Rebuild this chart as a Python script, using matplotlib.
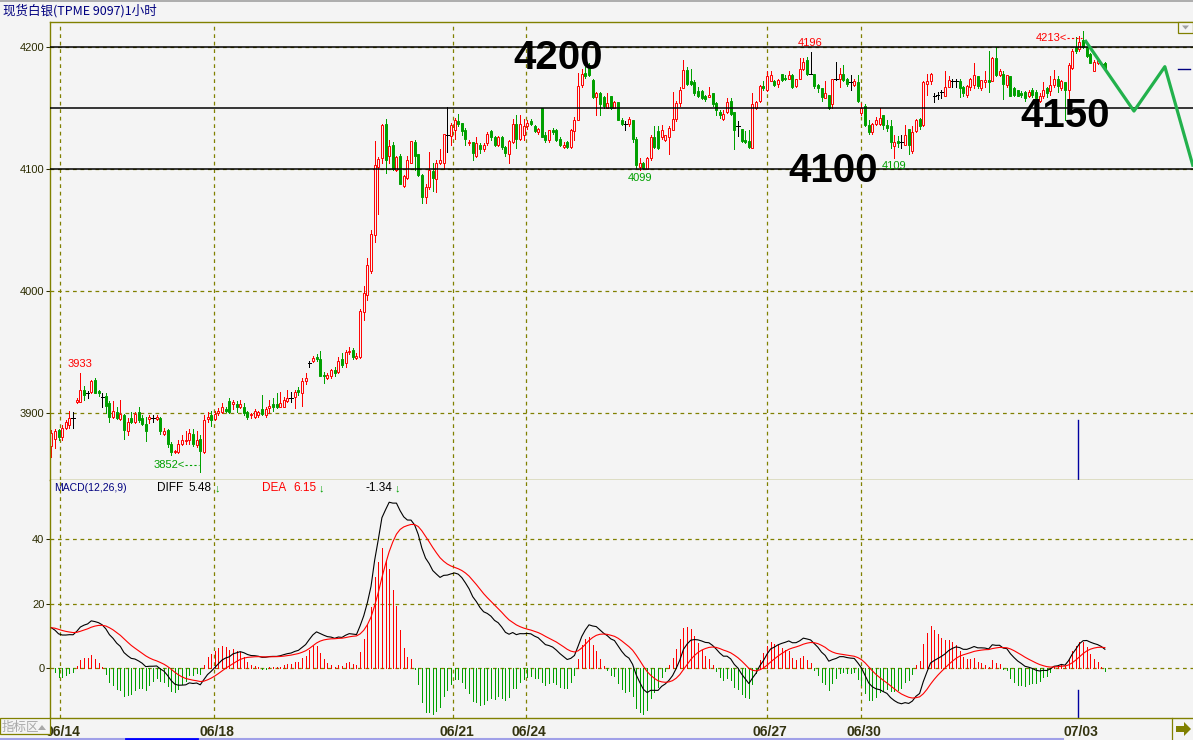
import numpy as np
import matplotlib
matplotlib.use("Agg")
import matplotlib.pyplot as plt
from matplotlib import font_manager
from matplotlib.lines import Line2D
from matplotlib.patches import Rectangle, Polygon
from matplotlib.transforms import Affine2D, ScaledTranslation, blended_transform_factory

# ---------------- data (1 hour candles) ----------------
title = "现货白银(TPME 9097)1小时"

opens = [
    3873, 3879, 3886, 3880, 3888, 3890, 3896, 3909, 3909, 3919,
    3916, 3917, 3927, 3918, 3913, 3914, 3908, 3897, 3901, 3895,
    3898, 3885, 3896, 3893, 3901, 3896, 3891, 3895, 3896, 3895,
    3896, 3883, 3886, 3875, 3868, 3868, 3875, 3877, 3878, 3883,
    3874, 3879, 3868, 3895, 3898, 3895, 3900, 3901, 3903, 3910,
    3907, 3907, 3905, 3905, 3901, 3898, 3897, 3898, 3903, 3898,
    3904, 3907, 3907, 3905, 3905, 3910, 3912, 3913, 3919, 3916,
    3926, 3941, 3943, 3946, 3944, 3931, 3929, 3930, 3935, 3934,
    3944, 3941, 3950, 3952, 3945, 3946, 3983, 3997, 4016, 4046,
    4102, 4109, 4137, 4111, 4120, 4099, 4111, 4086, 4093, 4105,
    4122, 4112, 4095, 4077, 4085, 4098, 4092, 4105, 4105, 4128,
    4127, 4132, 4139, 4138, 4132, 4121, 4122, 4111, 4120, 4116,
    4121, 4131, 4126, 4120, 4126, 4118, 4112, 4122, 4137, 4125,
    4128, 4135, 4139, 4135, 4130, 4150, 4128, 4124, 4132, 4132,
    4125, 4118, 4122, 4118, 4131, 4140, 4169, 4179, 4184, 4173,
    4159, 4162, 4159, 4150, 4160, 4150, 4155, 4140, 4137, 4137,
    4140, 4125, 4102, 4105, 4100, 4109, 4126, 4131, 4126, 4124,
    4126, 4132, 4141, 4154, 4166, 4181, 4172, 4171, 4164, 4164,
    4160, 4159, 4162, 4154, 4147, 4141, 4147, 4156, 4147, 4135,
    4133, 4124, 4123, 4117, 4150, 4156, 4168, 4165, 4172, 4172,
    4170, 4178, 4175, 4174, 4177, 4168, 4174, 4182, 4189, 4178,
    4178, 4169, 4166, 4158, 4161, 4153, 4174, 4174, 4178, 4174,
    4171, 4169, 4171, 4146, 4152, 4136, 4130, 4137, 4137, 4144,
    4136, 4135, 4119, 4123, 4122, 4120, 4133, 4115, 4131, 4141,
    4136, 4170, 4172, 4160, 4161, 4163, 4160, 4167, 4172, 4172,
    4172, 4167, 4161, 4167, 4169, 4176, 4166, 4171, 4173, 4172,
    4191, 4177, 4178, 4169, 4176, 4166, 4165, 4162, 4163, 4160,
    4165, 4163, 4156, 4160, 4166, 4164, 4169, 4174, 4166, 4171,
    4165, 4183, 4200, 4198, 4206, 4200, 4194, 4180, 4187, 4186, 4187,
]
highs = [
    3886, 3887, 3887, 3890, 3894, 3902, 3901, 3912, 3933, 3922,
    3918, 3927, 3929, 3919, 3916, 3916, 3910, 3910, 3905, 3911,
    3899, 3896, 3901, 3901, 3905, 3898, 3897, 3898, 3898, 3898,
    3897, 3888, 3887, 3876, 3870, 3878, 3882, 3885, 3887, 3887,
    3885, 3882, 3898, 3901, 3902, 3902, 3904, 3908, 3905, 3912,
    3911, 3910, 3911, 3908, 3902, 3900, 3903, 3902, 3915, 3905,
    3911, 3912, 3916, 3917, 3913, 3919, 3917, 3919, 3921, 3929,
    3933, 3943, 3947, 3948, 3951, 3934, 3933, 3936, 3938, 3946,
    3949, 3952, 3954, 3953, 3949, 3985, 4004, 4027, 4050, 4123,
    4110, 4137, 4141, 4124, 4122, 4111, 4112, 4095, 4111, 4123,
    4124, 4112, 4096, 4088, 4114, 4105, 4107, 4116, 4129, 4151,
    4138, 4142, 4145, 4138, 4134, 4124, 4122, 4126, 4121, 4121,
    4130, 4132, 4127, 4127, 4127, 4119, 4124, 4141, 4144, 4144,
    4141, 4140, 4141, 4136, 4134, 4150, 4130, 4132, 4134, 4133,
    4126, 4122, 4123, 4133, 4143, 4179, 4182, 4184, 4187, 4174,
    4163, 4163, 4160, 4162, 4160, 4156, 4155, 4142, 4139, 4143,
    4140, 4126, 4109, 4106, 4110, 4128, 4135, 4135, 4136, 4128,
    4135, 4163, 4156, 4167, 4189, 4184, 4182, 4173, 4167, 4165,
    4161, 4167, 4162, 4155, 4148, 4148, 4158, 4158, 4147, 4139,
    4133, 4131, 4132, 4162, 4156, 4169, 4172, 4180, 4180, 4173,
    4174, 4178, 4177, 4180, 4178, 4174, 4191, 4191, 4192, 4196,
    4178, 4170, 4166, 4172, 4161, 4174, 4188, 4183, 4185, 4175,
    4177, 4174, 4177, 4154, 4153, 4140, 4138, 4143, 4150, 4144,
    4140, 4140, 4128, 4127, 4128, 4136, 4133, 4135, 4141, 4142,
    4172, 4178, 4179, 4162, 4163, 4165, 4180, 4176, 4174, 4174,
    4174, 4168, 4169, 4175, 4187, 4176, 4173, 4180, 4197, 4192,
    4200, 4182, 4180, 4177, 4176, 4167, 4165, 4164, 4164, 4165,
    4166, 4165, 4162, 4171, 4167, 4176, 4181, 4176, 4173, 4171,
    4187, 4198, 4208, 4209, 4213, 4202, 4195, 4189, 4190, 4188, 4188,
]
lows = [
    3864, 3871, 3878, 3878, 3887, 3888, 3888, 3908, 3909, 3911,
    3912, 3916, 3916, 3914, 3905, 3900, 3893, 3896, 3895, 3894,
    3879, 3882, 3892, 3892, 3893, 3890, 3877, 3892, 3893, 3894,
    3883, 3882, 3872, 3866, 3867, 3867, 3874, 3875, 3875, 3873,
    3872, 3852, 3867, 3893, 3889, 3894, 3898, 3900, 3901, 3900,
    3903, 3901, 3904, 3898, 3895, 3896, 3896, 3897, 3898, 3897,
    3900, 3902, 3904, 3905, 3905, 3909, 3909, 3904, 3915, 3906,
    3924, 3938, 3942, 3943, 3930, 3925, 3928, 3929, 3930, 3933,
    3938, 3938, 3948, 3944, 3944, 3945, 3976, 3993, 4015, 4040,
    4063, 4105, 4097, 4105, 4099, 4098, 4088, 4085, 4092, 4105,
    4099, 4094, 4072, 4072, 4084, 4082, 4081, 4104, 4100, 4114,
    4120, 4125, 4135, 4128, 4120, 4120, 4107, 4110, 4113, 4115,
    4120, 4124, 4119, 4119, 4116, 4111, 4105, 4121, 4117, 4124,
    4124, 4133, 4136, 4130, 4129, 4126, 4122, 4122, 4129, 4123,
    4119, 4117, 4117, 4117, 4124, 4140, 4167, 4175, 4176, 4158,
    4144, 4144, 4150, 4150, 4149, 4150, 4140, 4136, 4132, 4135,
    4122, 4101, 4099, 4100, 4100, 4107, 4117, 4116, 4125, 4123,
    4112, 4132, 4139, 4152, 4166, 4169, 4169, 4161, 4159, 4157,
    4156, 4159, 4152, 4144, 4142, 4140, 4146, 4144, 4116, 4127,
    4122, 4121, 4117, 4117, 4149, 4155, 4165, 4164, 4172, 4168,
    4167, 4172, 4173, 4174, 4166, 4167, 4174, 4181, 4177, 4178,
    4166, 4163, 4156, 4158, 4149, 4150, 4173, 4167, 4172, 4168,
    4165, 4168, 4155, 4144, 4135, 4129, 4129, 4136, 4136, 4133,
    4131, 4117, 4109, 4118, 4117, 4120, 4112, 4113, 4130, 4133,
    4135, 4161, 4170, 4155, 4157, 4158, 4160, 4167, 4167, 4167,
    4159, 4160, 4159, 4165, 4166, 4166, 4165, 4167, 4163, 4172,
    4176, 4176, 4157, 4167, 4160, 4160, 4160, 4159, 4156, 4159,
    4159, 4157, 4155, 4158, 4159, 4161, 4167, 4163, 4165, 4140,
    4158, 4182, 4195, 4197, 4199, 4192, 4187, 4180, 4186, 4185, 4181,
]
closes = [
    3884, 3885, 3880, 3888, 3893, 3896, 3896, 3911, 3919, 3915,
    3916, 3926, 3916, 3916, 3913, 3906, 3897, 3902, 3896, 3899,
    3886, 3893, 3893, 3899, 3894, 3891, 3885, 3897, 3896, 3897,
    3885, 3885, 3875, 3868, 3869, 3875, 3878, 3878, 3884, 3875,
    3878, 3869, 3894, 3897, 3894, 3899, 3902, 3905, 3902, 3901,
    3909, 3905, 3907, 3900, 3897, 3899, 3902, 3901, 3899, 3903,
    3906, 3905, 3905, 3908, 3911, 3912, 3912, 3917, 3917, 3926,
    3929, 3941, 3945, 3944, 3930, 3930, 3931, 3935, 3933, 3943,
    3939, 3950, 3951, 3946, 3947, 3984, 3998, 4021, 4047, 4103,
    4108, 4136, 4107, 4119, 4100, 4110, 4088, 4094, 4107, 4123,
    4111, 4095, 4077, 4085, 4099, 4093, 4105, 4107, 4129, 4128,
    4136, 4140, 4137, 4131, 4125, 4122, 4113, 4121, 4116, 4120,
    4129, 4126, 4120, 4126, 4118, 4113, 4123, 4137, 4125, 4137,
    4135, 4138, 4137, 4131, 4133, 4126, 4124, 4132, 4130, 4124,
    4120, 4120, 4118, 4132, 4140, 4168, 4178, 4176, 4177, 4159,
    4162, 4153, 4152, 4154, 4150, 4155, 4140, 4137, 4137, 4141,
    4125, 4103, 4105, 4101, 4109, 4126, 4118, 4117, 4132, 4128,
    4134, 4141, 4154, 4165, 4181, 4170, 4170, 4162, 4160, 4158,
    4157, 4161, 4153, 4148, 4144, 4145, 4155, 4145, 4132, 4135,
    4123, 4122, 4118, 4153, 4155, 4168, 4166, 4176, 4177, 4169,
    4173, 4173, 4174, 4177, 4167, 4174, 4182, 4188, 4178, 4178,
    4168, 4166, 4159, 4162, 4150, 4174, 4174, 4178, 4173, 4170,
    4171, 4172, 4156, 4150, 4136, 4130, 4137, 4140, 4142, 4136,
    4134, 4122, 4122, 4121, 4122, 4128, 4120, 4130, 4140, 4135,
    4171, 4172, 4178, 4160, 4161, 4163, 4167, 4173, 4172, 4172,
    4166, 4162, 4168, 4174, 4177, 4168, 4173, 4173, 4171, 4191,
    4177, 4180, 4170, 4177, 4160, 4161, 4160, 4161, 4158, 4163,
    4161, 4158, 4160, 4165, 4162, 4169, 4174, 4168, 4172, 4165,
    4185, 4197, 4197, 4204, 4200, 4193, 4187, 4188, 4189, 4186, 4182,
]

date_labels = ["06/14", "06/18", "06/21", "06/24", "06/27", "06/30", "07/03"]
date_pos = [2.5, 44.7, 110.7, 130.7, 196.9, 222.8, 282.6]   # candle index of each day start

price_ticks = [3900, 4000, 4100, 4200]
macd_ticks = [0, 20, 40]
drawn_levels = [4200, 4150, 4100]          # black lines drawn by the user

high_marks = [8, 209]       # local highs the software labels
low_marks = [162, 232]      # local lows
range_high = 284            # highest bar in view  (4213<--)
range_low = 41              # lowest bar in view   (3852<--)

# MACD(12,26,9) state carried in from the bars before the window
ema12_start, ema26_start, dea_start = 3883.0, 3870.5, 12.5
macd_header = ("5.48", "6.15", "-1.34")

# hand drawn annotations
big_text = ["4200", "4100", "4150"]
big_x = [139.4, 215.2, 279.0]
big_y = [4182.0, 4089.3, 4134.4]
zig_x = [284.5, 298.0, 306.5, 314.3]
zig_y = [4205.7, 4147.5, 4183.9, 4101.9]

# ---------------- style ----------------
BG = "#f4f4f4"
OLIVE = "#808000"
RED = "#ff0000"
GREEN = "#00a000"
DARK = "#2b2b00"
W, H = 1193, 740
LW = 0.7   # one screen pixel

names = {f.name for f in font_manager.fontManager.ttflist}
plt.rcParams["font.family"] = ["Liberation Sans", "DejaVu Sans"]
CJK = ["Noto Sans CJK SC", "DejaVu Sans"]
BIG = "Liberation Sans Narrow" if "Liberation Sans Narrow" in names else "Liberation Sans"

o = np.array(opens, float)
h = np.array(highs, float)
l = np.array(lows, float)
c = np.array(closes, float)
n = len(c)
x = np.arange(n)

# MACD
ema12 = np.empty(n); ema26 = np.empty(n); dea = np.empty(n)
ema12[0], ema26[0] = ema12_start, ema26_start
for i in range(1, n):
    ema12[i] = ema12[i - 1] + 2 / 13 * (c[i] - ema12[i - 1])
    ema26[i] = ema26[i - 1] + 2 / 27 * (c[i] - ema26[i - 1])
diff = ema12 - ema26
dea[0] = dea_start
for i in range(1, n):
    dea[i] = dea[i - 1] + 2 / 10 * (diff[i] - dea[i - 1])
bar = 2 * (diff - dea)

fig = plt.figure(figsize=(W / 100, H / 100), dpi=100, facecolor=BG)
pix = Affine2D().scale(1 / W, -1 / H).translate(0, 1) + fig.transFigure


def box(x0, y0, x1, y1):
    return [x0 / W, 1 - y1 / H, (x1 - x0) / W, (y1 - y0) / H]


ax = fig.add_axes(box(50, 22, 1193, 480))
axm = fig.add_axes(box(50, 480, 1193, 718))
XLIM = (-0.36, 314.25)

for a in (ax, axm):
    a.set_facecolor(BG)
    a.set_xlim(*XLIM)
    a.spines["right"].set_visible(False)
    for s in ("left", "top", "bottom"):
        a.spines[s].set_color(OLIVE)
        a.spines[s].set_linewidth(1.0)
    a.tick_params(axis="y", length=3, width=0.75, color=DARK, labelsize=8,
                  labelcolor=DARK, pad=1)
axm.spines["top"].set_visible(False)

# ---- main panel ----
ax.set_ylim(3845.1, 4220.5)
ax.set_yticks(price_ticks)
ax.tick_params(axis="x", bottom=False, labelbottom=False)
for lv in price_ticks:
    ax.axhline(lv, color=OLIVE, lw=0.9, ls=(0, (3, 3)), zorder=0.5)
for d in date_pos[:-1]:
    ax.axvline(d, color=OLIVE, lw=0.9, ls=(0, (3, 3)), zorder=0.5)
    axm.axvline(d, color=OLIVE, lw=0.9, ls=(0, (3, 3)), zorder=0.5)

up = c > o
dn = c < o
dj = c == o
bw = 0.55
top = np.maximum(o, c)
bot = np.minimum(o, c)
ax.vlines(x[up], top[up], h[up], color=RED, lw=LW, antialiased=False, zorder=2)
ax.vlines(x[up], l[up], bot[up], color=RED, lw=LW, antialiased=False, zorder=2)
ax.bar(x[up], (c - o)[up], bottom=o[up], width=bw, facecolor=BG, edgecolor=RED,
       linewidth=LW, zorder=2.2)
ax.vlines(x[dn], l[dn], h[dn], color=GREEN, lw=LW, antialiased=False, zorder=2)
ax.bar(x[dn], (o - c)[dn], bottom=c[dn], width=bw, facecolor=GREEN, edgecolor=GREEN,
       linewidth=LW, zorder=2.2)
ax.vlines(x[dj], l[dj], h[dj], color="black", lw=LW, antialiased=False, zorder=2)
ax.hlines(c[dj], x[dj] - 0.45, x[dj] + 0.45, color="black", lw=LW,
          antialiased=False, zorder=2)

for lv in drawn_levels:
    ax.axhline(lv, color="black", lw=1.1, zorder=3)

# extreme labels
px = lambda dx, dy: ScaledTranslation(dx / 100, dy / 100, fig.dpi_scale_trans)
for i in high_marks:
    ax.text(i, h[i], f"{h[i]:.0f}", color=RED, fontsize=8, ha="center", va="bottom",
            transform=ax.transData + px(0, 4), zorder=4)
for i in low_marks:
    ax.text(i, l[i], f"{l[i]:.0f}", color=GREEN, fontsize=8, ha="center", va="top",
            transform=ax.transData + px(0, -3), zorder=4)
for i, v, col, dy in ((range_high, h[range_high], RED, -7), (range_low, l[range_low], GREEN, 7)):
    tr = ax.transData + px(0, dy)
    ax.text(i - 4.3, v, f"{v:.0f}<", color=col, fontsize=8, ha="right", va="center",
            transform=tr, zorder=4)
    ax.plot([i - 4.3, i - 0.3], [v, v], color=col, lw=0.8, ls=(0, (2, 2)),
            transform=tr, zorder=4)

# user drawings
ax.plot(zig_x, zig_y, color="#22b14c", lw=2.3, zorder=4, solid_capstyle="butt")
for t, bx, by in zip(big_text, big_x, big_y):
    ax.text(bx, by, t, fontsize=29, fontweight="bold", family=BIG, color="black",
            ha="center", va="baseline", zorder=5)

# current price marker and cursor
ax.plot([0.987, 0.9974], [c[-1], c[-1]], color="#000080", lw=1,
        transform=blended_transform_factory(ax.transAxes, ax.transData))
ax.axvline(date_pos[-1], ymin=0, ymax=0.131, color="#0000a0", lw=1)

# ---- MACD panel ----
axm.set_ylim(-15.5, 58.3)
axm.set_yticks(macd_ticks)
for lv in macd_ticks:
    axm.axhline(lv, color=OLIVE, lw=0.9, ls=(0, (3, 3)), zorder=0.5)
axm.vlines(x, 0, bar, colors=np.where(bar >= 0, RED, GREEN), lw=LW,
           antialiased=False, zorder=2)
axm.plot(x, diff, color="black", lw=0.8, zorder=3)
axm.plot(x, dea, color=RED, lw=0.8, zorder=3)
axm.axvline(date_pos[-1], ymin=0, ymax=0.118, color="#0000a0", lw=1)

axm.set_xticks(date_pos)
axm.set_xticklabels(date_labels, fontweight="bold", fontsize=10, color="#333310")
axm.tick_params(axis="x", length=0, pad=5)
for t in axm.get_xticklabels():
    t.set_transform(t.get_transform() + px(3, 0))

# ---- header texts ----
fig.text(3, 11, title, transform=pix, fontsize=9, color="#000080", family=CJK,
         va="center", ha="left")
hdr = [("MACD(12,26,9)", 54, "#000080", 7.5), ("DIFF", 157, "black", 8.5),
       (macd_header[0], 188, "black", 8.5), ("↓", 215, GREEN, 8),
       ("DEA", 262, RED, 8.5), (macd_header[1], 293, RED, 8.5), ("↓", 319, GREEN, 8),
       (macd_header[2], 366, "black", 8.5), ("↓", 395, GREEN, 8)]
for t, hx, col, fs in hdr:
    fig.text(hx, 488, t, transform=pix, fontsize=fs, color=col, va="center", ha="left",
             family=["Liberation Sans", "DejaVu Sans"])

# ---- window chrome ----
fig.add_artist(Line2D([0, W], [1, 1], transform=pix, color="#a0a0a0", lw=1.2))
fig.add_artist(Rectangle((1178, 22), 15, 11, transform=pix, facecolor=BG,
                         edgecolor=OLIVE, lw=0.9, zorder=10))
fig.add_artist(Polygon([(1182, 25.5), (1189, 25.5), (1185.5, 29.5)], closed=True,
                       transform=pix, facecolor="#a0a0a0", edgecolor="none", zorder=11))
fig.add_artist(Rectangle((0, 718), 50, 16, transform=pix, facecolor=BG,
                         edgecolor=OLIVE, lw=0.9, zorder=10))
fig.text(2, 727, "指标区", transform=pix, fontsize=9, color="#a8a8a8", family=CJK,
         va="center", ha="left", zorder=11)
fig.add_artist(Polygon([(38, 730), (46, 730), (42, 725)], closed=True, transform=pix,
                       facecolor="#a8a8a8", edgecolor="none", zorder=11))
fig.add_artist(Line2D([1172, 1172], [718, 740], transform=pix, color=OLIVE, lw=0.9,
                      zorder=10))
fig.add_artist(Polygon([(1176, 726), (1184, 726), (1184, 722), (1191, 729),
                        (1184, 736), (1184, 732), (1176, 732)], closed=True,
                       transform=pix, facecolor=OLIVE, edgecolor="none", zorder=11))
fig.add_artist(Line2D([0, 1063], [738.5, 738.5], transform=pix, color="#a0a0e8", lw=1.5))
fig.add_artist(Line2D([126, 197], [738.5, 738.5], transform=pix, color="#0000ff", lw=2))

fig.savefig("out.png", dpi=100, facecolor=BG)
